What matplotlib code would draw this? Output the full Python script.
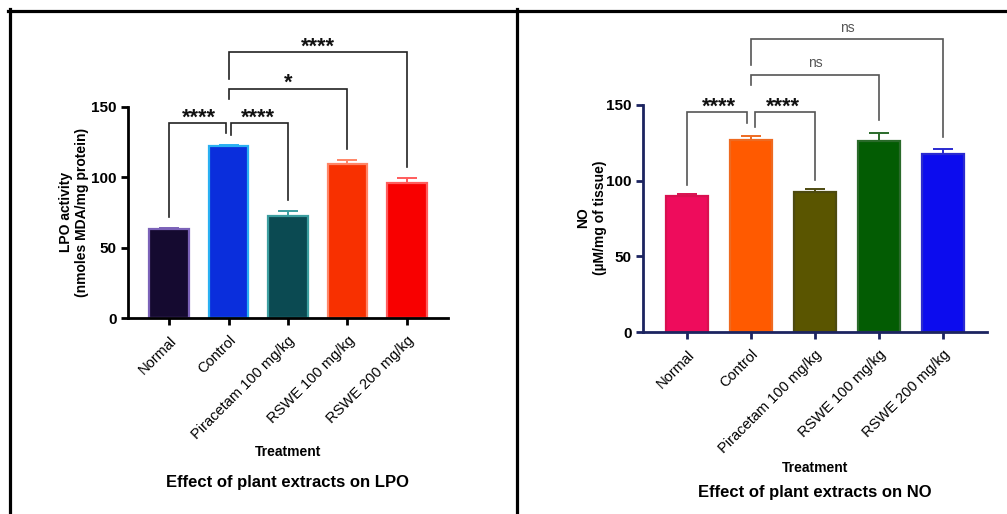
import matplotlib
matplotlib.use("Agg")
import matplotlib.pyplot as plt
from matplotlib.lines import Line2D

plt.rcParams["font.family"] = ["Liberation Sans", "DejaVu Sans"]

W, H = 1007, 514

# Data
groups = ["Normal", "Control", "Piracetam 100 mg/kg", "RSWE 100 mg/kg", "RSWE 200 mg/kg"]

lpo_mean = [63, 122, 72.5, 109.5, 96]
lpo_err = [1, 1, 3.5, 3, 3.5]

no_mean = [90, 127, 92.5, 126.5, 117.5]
no_err = [1, 2.5, 2, 5, 3.5]

# (group a, group b, top, leg a end, leg b end, label)
lpo_brackets = [
    (0, 1, 138.5, 72, 131.5, "****"),
    (1, 2, 138.5, 130, 84, "****"),
    (1, 3, 163, 156, 120, "*"),
    (1, 4, 189, 170, 107, "****"),
]
no_brackets = [
    (0, 1, 145.5, 97, 138, "****"),
    (1, 2, 145.5, 135.5, 100.5, "****"),
    (1, 3, 170, 163, 140, "ns"),
    (1, 4, 193.5, 176.5, 129, "ns"),
]

lpo_fill = ["#150a30", "#0a2edc", "#0b4a52", "#f83000", "#f80000"]
lpo_edge = ["#7b62b8", "#2ab0f2", "#3c9ea0", "#ff8566", "#ff5c5c"]
no_fill = ["#ee0c5c", "#ff5a00", "#5a5500", "#035c03", "#0c0cee"]
no_edge = ["#d81050", "#ee6a20", "#4d4a10", "#2a6a2a", "#2a2ad0"]

fig = plt.figure(figsize=(W / 100, H / 100), dpi=100)


def px_axes(left, top, right, bottom):
    return fig.add_axes([left / W, 1 - bottom / H, (right - left) / W, (bottom - top) / H])


def fpos(x, y):
    return x / W, 1 - y / H


def draw_panel(ax, means, errs, fill, edge, brackets, axis_color, br_color,
               star_off, ns_off, leg_shift):
    x = list(range(len(groups)))
    ax.bar(x, means, width=0.66, color=fill, edgecolor=edge, linewidth=1.6, zorder=2)
    for i in x:
        ax.errorbar(i, means[i], yerr=[[0], [errs[i]]], fmt="none",
                    ecolor=edge[i], elinewidth=1.4, capsize=7, capthick=1.4, zorder=3)
    ax.set_xlim(-0.69, len(groups) - 1 + 0.69)
    ax.set_ylim(0, 150)
    ax.set_yticks([0, 50, 100, 150])
    ax.set_xticks(x)
    ax.set_xticklabels(groups, rotation=45, ha="right", rotation_mode="anchor", fontsize=10.5)
    for lab in ax.get_yticklabels():
        lab.set_fontweight("bold")
        lab.set_fontsize(11)
    for s in ["top", "right"]:
        ax.spines[s].set_visible(False)
    for s in ["left", "bottom"]:
        ax.spines[s].set_linewidth(2)
        ax.spines[s].set_color(axis_color)
    ax.tick_params(axis="both", direction="out", length=5, width=2, color=axis_color, pad=3)
    ax.tick_params(axis="x", pad=6)

    for a, b, top, ya, yb, label in brackets:
        xa, xb = a, b
        if label != "ns" and b - a == 1:
            if a == 0:
                xb = b - leg_shift
            else:
                xa = a + leg_shift
        ax.plot([xa, xa, xb, xb], [ya, top, top, yb], color=br_color, lw=1.2,
                clip_on=False, solid_joinstyle="miter", zorder=4)
        if label == "ns":
            ax.text((a + b) / 2, top + ns_off, label, ha="center", va="baseline",
                    fontsize=10, color="#555555", clip_on=False)
        else:
            ax.text((a + b) / 2, top + star_off, label, ha="center", va="baseline",
                    fontsize=15.5, fontweight="bold", color="#111111", clip_on=False)


ax1 = px_axes(128, 107, 448, 318)
draw_panel(ax1, lpo_mean, lpo_err, lpo_fill, lpo_edge, lpo_brackets,
           "#000000", "#222222", -0.3, 4, 0.05)

ax2 = px_axes(643, 105, 987, 332)
draw_panel(ax2, no_mean, no_err, no_fill, no_edge, no_brackets,
           "#1c2460", "#555555", -0.3, 5, 0.06)

# Axis labels and captions
fig.text(*fpos(74, 212), "LPO activity\n(nmoles MDA/mg protein)", rotation=90,
         ha="center", va="center", fontsize=10, fontweight="bold", linespacing=1.25)
fig.text(*fpos(592, 218), "NO\n(\u00b5M/mg of tissue)", rotation=90,
         ha="center", va="center", fontsize=10, fontweight="bold", linespacing=1.25)

fig.text(*fpos(288, 452), "Treatment", ha="center", va="center", fontsize=10, fontweight="bold")
fig.text(*fpos(815, 468), "Treatment", ha="center", va="center", fontsize=10, fontweight="bold")
fig.text(*fpos(287, 482), "Effect of plant extracts on LPO", ha="center", va="center",
         fontsize=12, fontweight="bold")
fig.text(*fpos(815, 493), "Effect of plant extracts on NO", ha="center", va="center",
         fontsize=12, fontweight="bold")

# Frame lines around the two panels
fig.add_artist(Line2D([8 / W, 1], [1 - 10.5 / H] * 2, color="black", lw=2.3))
fig.add_artist(Line2D([10 / W] * 2, [0, 1 - 9 / H], color="black", lw=2.3))
fig.add_artist(Line2D([516.5 / W] * 2, [0, 1 - 9 / H], color="black", lw=2.3))

fig.savefig("out.png", dpi=100)
